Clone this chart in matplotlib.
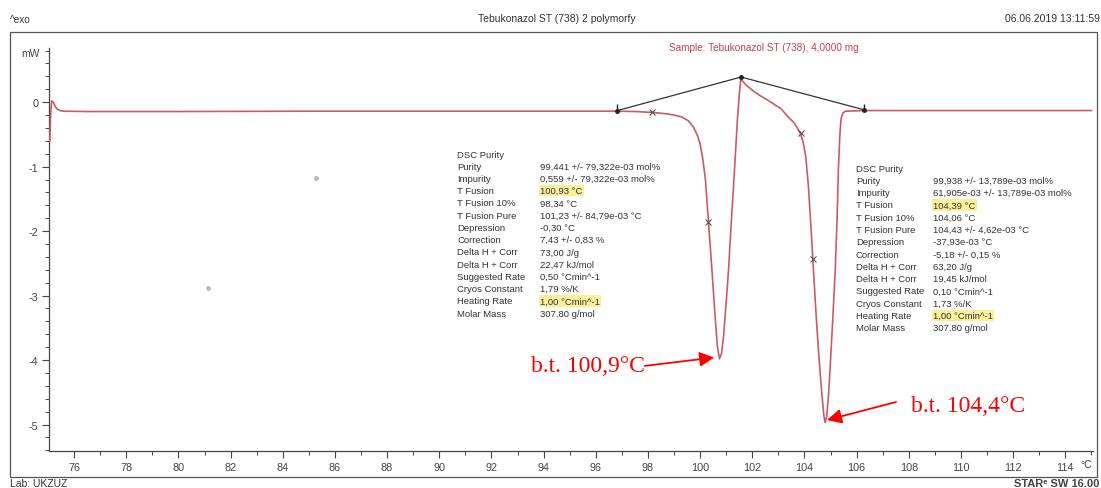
import matplotlib
matplotlib.use("Agg")
from matplotlib import pyplot as plt
from matplotlib.patches import Rectangle
from matplotlib.ticker import MultipleLocator

plt.rcParams['font.family'] = ['Liberation Sans', 'DejaVu Sans']
plt.rcParams['axes.unicode_minus'] = False

# DSC curve (temperature in °C, heat flow in mW)
temp = [75.07, 75.10, 75.14, 75.20, 75.28, 75.36, 75.46, 75.60, 76.5, 80.0,
        85.0, 90.0, 95.0, 96.8, 97.5, 98.2, 98.7, 99.0, 99.3, 99.55,
        99.75, 99.9, 100.0, 100.1, 100.2, 100.32, 100.45, 100.58, 100.66, 100.74,
        100.82, 100.9, 101.0, 101.09, 101.18, 101.28, 101.36, 101.43, 101.50, 101.56,
        101.62, 101.75, 101.9, 102.05, 102.3, 102.6, 102.9, 103.1, 103.33, 103.6,
        103.83, 103.95, 104.05, 104.15, 104.25, 104.32, 104.43, 104.54, 104.65, 104.74,
        104.79, 104.85, 104.92, 104.98, 105.08, 105.18, 105.25, 105.30, 105.35, 105.40,
        105.47, 105.56, 106.3, 110.0, 115.0]
heat_flow = [-0.60, -0.20, 0.02, 0.00, -0.07, -0.11, -0.13, -0.14, -0.145, -0.145,
             -0.14, -0.14, -0.14, -0.14, -0.145, -0.16, -0.18, -0.20, -0.23, -0.29,
             -0.39, -0.52, -0.65, -0.88, -1.19, -1.86, -2.59, -3.36, -3.78, -3.98,
             -3.90, -3.62, -3.10, -2.59, -1.95, -1.30, -0.75, -0.26, 0.12, 0.36,
             0.33, 0.27, 0.22, 0.17, 0.10, 0.03, -0.05, -0.10, -0.21, -0.32,
             -0.47, -0.62, -0.85, -1.30, -1.95, -2.44, -3.20, -3.88, -4.45, -4.85,
             -4.97, -4.88, -4.55, -4.14, -3.40, -2.59, -1.80, -1.04, -0.55, -0.26,
             -0.17, -0.14, -0.13, -0.13, -0.13]

# integration limits / baseline construction
tangent_t = [96.83, 101.57, 106.3]
tangent_y = [-0.13, 0.39, -0.12]
cross_t = [98.17, 100.32, 103.88, 104.32]
cross_y = [-0.16, -1.86, -0.48, -2.44]
stray_t = [85.29, 81.15]
stray_y = [-1.18, -2.88]

x_ticks = list(range(76, 116, 2))
y_ticks = [-5, -4, -3, -2, -1, 0]

info_labels = ["DSC Purity", "Purity", "Impurity", "T Fusion", "T Fusion 10%",
               "T Fusion Pure", "Depression", "Correction", "Delta H + Corr",
               "Delta H + Corr", "Suggested Rate", "Cryos Constant",
               "Heating Rate", "Molar Mass"]
info_values_1 = ["", "99,441 +/- 79,322e-03 mol%", "0,559 +/- 79,322e-03 mol%",
                 "100,93 °C", "98,34 °C", "101,23 +/- 84,79e-03 °C", "-0,30 °C",
                 "7,43 +/- 0,83 %", "73,00 J/g", "22,47 kJ/mol",
                 "0,50 °Cmin^-1", "1,79 %/K", "1,00 °Cmin^-1", "307,80 g/mol"]
info_values_2 = ["", "99,938 +/- 13,789e-03 mol%", "61,905e-03 +/- 13,789e-03 mol%",
                 "104,39 °C", "104,06 °C", "104,43 +/- 4,62e-03 °C", "-37,93e-03 °C",
                 "-5,18 +/- 0,15 %", "63,20 J/g", "19,45 kJ/mol",
                 "0,10 °Cmin^-1", "1,73 %/K", "1,00 °Cmin^-1", "307,80 g/mol"]
highlight_rows = [3, 12]

W, H = 1101, 489
fig = plt.figure(figsize=(W / 100, H / 100), dpi=100)


def fx(px):
    return px / W


def fy(py):
    return 1 - py / H


ax = fig.add_axes([fx(49.3), fy(452), fx(1093) - fx(49.3), fy(49) - fy(452)])
ax.set_xlim(75.05, 115.06)
ax.set_ylim(-5.41, 0.84)

curve_color = '#cc5a64'
ax.plot(temp, heat_flow, color=curve_color, linewidth=1.2, zorder=3)
ax.plot(tangent_t, tangent_y, color='#333333', linewidth=0.9, zorder=4)
ax.plot(tangent_t, tangent_y, linestyle='none', marker='o', markersize=2.5,
        color='#222222', zorder=5)
ax.plot([tangent_t[0], tangent_t[2]], [tangent_y[0] + 0.05, tangent_y[2] + 0.05],
        linestyle='none', marker='|', markersize=4, color='#222222', zorder=5)
ax.plot(cross_t, cross_y, linestyle='none', marker='x', markersize=4,
        markeredgewidth=0.8, color='#555555', zorder=5)
ax.plot(stray_t, stray_y, linestyle='none', marker='o', markersize=2.5,
        color='#bbbbbb', zorder=2)

for side in ['top', 'right']:
    ax.spines[side].set_visible(False)
for side in ['left', 'bottom']:
    ax.spines[side].set_color('#444444')
    ax.spines[side].set_linewidth(0.9)

ax.set_xticks(x_ticks)
ax.set_xticklabels([str(t) for t in x_ticks])
ax.set_yticks(y_ticks)
ax.set_yticklabels([str(t) for t in y_ticks])
ax.xaxis.set_minor_locator(MultipleLocator(1))
ax.yaxis.set_minor_locator(MultipleLocator(0.2))
ax.tick_params(which='major', direction='out', length=5, width=0.8,
               color='#444444', labelsize=7.8, labelcolor='#444444', pad=3)
ax.tick_params(which='minor', direction='out', length=3, width=0.7,
               color='#444444')

# DSC purity result blocks
def add_info_block(x_label, x_value, y_top, values, step):
    for i, (lab, val) in enumerate(zip(info_labels, values)):
        ypx = y_top + i * step
        fig.text(fx(x_label), fy(ypx), lab, fontsize=6.8, color='#333333',
                 va='center', ha='left')
        if val:
            bbox = None
            if i in highlight_rows:
                bbox = dict(facecolor='#fbef9c', edgecolor='none', pad=0.8)
            fig.text(fx(x_value), fy(ypx), val, fontsize=6.8, color='#333333',
                     va='center', ha='left', bbox=bbox)


add_info_block(457, 540, 155, info_values_1, 12.25)
add_info_block(856, 933, 169, info_values_2, 12.3)

# melting point annotations
arrow_style = dict(arrowstyle='-|>', color='red', lw=1.3,
                   mutation_scale=22, shrinkA=0, shrinkB=0)
ax.annotate('', xy=(100.54, -3.96), xytext=(97.88, -4.09), arrowprops=arrow_style)
ax.text(97.88, -4.09, 'b.t. 100,9°C', family='Liberation Serif', fontsize=17,
        color='red', ha='right', va='center')
ax.annotate('', xy=(104.86, -4.93), xytext=(107.51, -4.65), arrowprops=arrow_style)
ax.text(108.08, -4.71, 'b.t. 104,4°C', family='Liberation Serif', fontsize=17,
        color='red', ha='left', va='center')

# page frame and header / footer texts
fig.patches.append(Rectangle((fx(10), fy(478)), fx(1097) - fx(10), fy(33) - fy(478),
                             transform=fig.transFigure, fill=False,
                             edgecolor='#555555', linewidth=0.9))
fig.text(fx(10), fy(20), '^exo', fontsize=7.2, color='#333333', va='center')
fig.text(fx(557), fy(19), 'Tebukonazol ST (738) 2 polymorfy', fontsize=7.5,
         color='#333333', ha='center', va='center')
fig.text(fx(1100), fy(19), '06.06.2019 13:11:59', fontsize=7.5,
         color='#333333', ha='right', va='center')
fig.text(fx(669), fy(48), 'Sample: Tebukonazol ST (738), 4,0000 mg', fontsize=7.2,
         color='#c04550', ha='left', va='center')
fig.text(fx(40), fy(54), 'mW', fontsize=7.5, color='#444444', ha='right', va='center')
fig.text(fx(1080), fy(465), '°C', fontsize=7.5, color='#444444', ha='left', va='center')
fig.text(fx(10), fy(484), 'Lab: UKZUZ', fontsize=7.5, color='#333333', va='center')
fig.text(fx(1099), fy(484), 'STAR\u1d49 SW 16.00', fontsize=8, fontweight='bold',
         color='#444444', ha='right', va='center')

fig.savefig('out.png', dpi=100)
